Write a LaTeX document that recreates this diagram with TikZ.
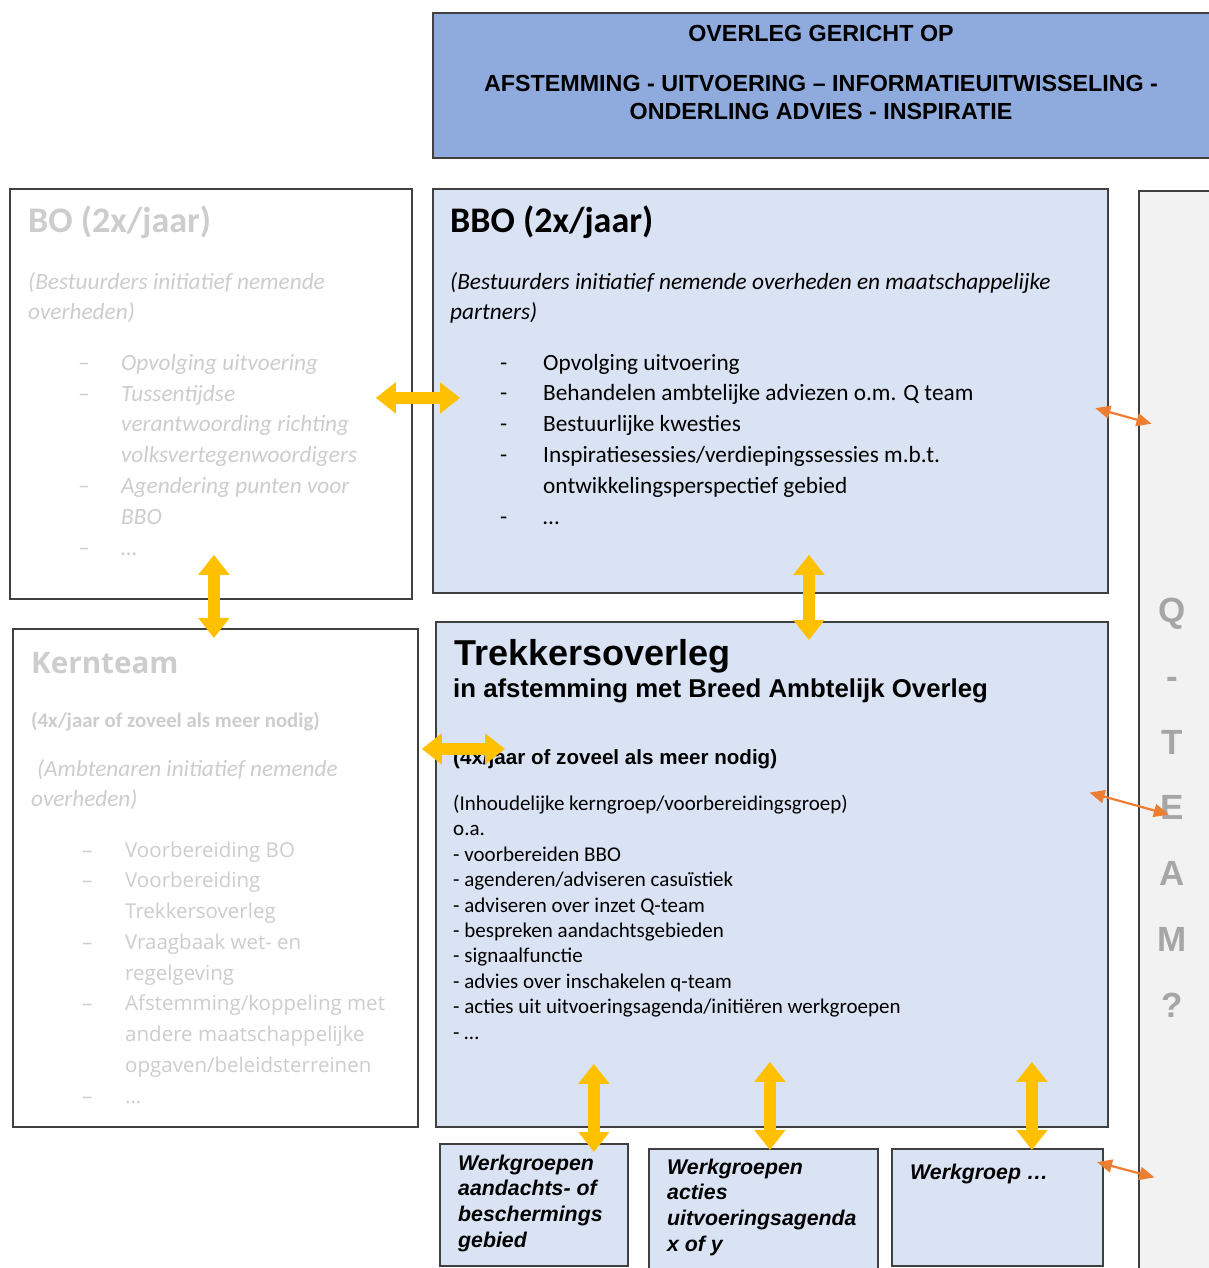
\documentclass[tikz,border=0pt]{standalone}
\usepackage{fontspec}
\newfontfamily\calfont{Carlito}
\newfontfamily\arfont{Liberation Sans}
\newfontfamily\opfont{Open Sans}
\usetikzlibrary{arrows.meta}
\definecolor{boxline}{HTML}{404040}
\definecolor{topblue}{HTML}{8FAADC}
\definecolor{paleblue}{HTML}{DAE3F3}
\definecolor{qgrey}{HTML}{F2F2F2}
\definecolor{fade}{HTML}{CDCDCD}
\definecolor{qletter}{HTML}{A6A6A6}
\definecolor{ylw}{HTML}{FFC000}
\definecolor{orng}{HTML}{ED7D31}
\newcommand{\dashitem}[1][-]{\makebox[43pt][l]{#1}}
\newcommand{\dashcont}{\hspace*{43pt}}

\begin{document}
\begin{tikzpicture}[x=1pt,y=-1pt,
	box/.style={draw=boxline,line width=1.8pt,anchor=north west,inner sep=0pt},
	txt/.style={anchor=base west,inner sep=0pt,align=left},
	yarrow/.style={ylw,line width=12pt,{Triangle[width=30pt,length=20pt]}-{Triangle[width=30pt,length=20pt]}},
	oarrow/.style={orng,line width=2.2pt,{Triangle[width=13pt,length=15pt]}-{Triangle[width=13pt,length=15pt]}}]
	\useasboundingbox (0,0) rectangle (1209,1268);
	
	% boxes
	\node[box,fill=topblue,minimum width=790,minimum height=145] (top) at (432,12) {};
	\node[box,fill=white,minimum width=402,minimum height=410] (bo) at (9,188) {};
	\node[box,fill=paleblue,minimum width=675,minimum height=404] (bbo) at (432,188) {};
	\node[box,fill=qgrey,minimum width=100,minimum height=1090] (qcol) at (1138,190) {};
	\node[box,fill=white,minimum width=405,minimum height=498] (kern) at (12,628) {};
	\node[box,fill=paleblue,minimum width=672,minimum height=505] (trek) at (435,621) {};
	\node[box,fill=paleblue,minimum width=188,minimum height=122] (wgA) at (439,1143) {};
	\node[box,fill=paleblue,minimum width=229,minimum height=130] (wgB) at (648,1148) {};
	\node[box,fill=paleblue,minimum width=211,minimum height=117] (wgC) at (891,1148) {};
	
	% top (base = last line)
	\node[anchor=base,inner sep=0pt,align=center,font=\arfont\bfseries\fontsize{23.3}{28}\selectfont] (top-text) at (821,120) {OVERLEG GERICHT OP\\[22pt]AFSTEMMING - UITVOERING – INFORMATIEUITWISSELING -\\ONDERLING ADVIES - INSPIRATIE};
	
	% BO
	\node[txt,font=\calfont\bfseries\fontsize{36}{40}\selectfont,text=fade] (bo-head) at (28,233) {BO (2x/jaar)};
	\node[txt,font=\calfont\itshape\fontsize{23.3}{30}\selectfont,text=fade] (bo-who) at (28,319) {(Bestuurders initiatief nemende\\overheden)};
	\node[txt,font=\calfont\itshape\fontsize{23.3}{30.8}\selectfont,text=fade] (bo-list) at (78,555) {\dashitem[–]Opvolging uitvoering\\ \dashitem[–]Tussentijdse\\ \dashcont verantwoording richting\\ \dashcont volksvertegenwoordigers\\ \dashitem[–]Agendering punten voor\\ \dashcont BBO\\ \dashitem[–]…};
	
	% BBO
	\node[txt,font=\calfont\bfseries\fontsize{36}{40}\selectfont] (bbo-head) at (450,233) {BBO (2x/jaar)};
	\node[txt,font=\calfont\itshape\fontsize{23.3}{30}\selectfont] (bbo-who) at (450,319) {(Bestuurders initiatief nemende overheden en maatschappelijke\\partners)};
	\node[txt,font=\calfont\fontsize{23.3}{30.8}\selectfont] (bbo-list) at (500,524) {\dashitem Opvolging uitvoering\\ \dashitem Behandelen ambtelijke adviezen o.m. Q team\\ \dashitem Bestuurlijke kwesties\\ \dashitem Inspiratiesessies/verdiepingssessies m.b.t.\\ \dashcont ontwikkelingsperspectief gebied\\ \dashitem …};
	
	% Kernteam
	\node[txt,font=\opfont\bfseries\fontsize{29.6}{34}\selectfont,text=fade] (kern-head) at (31,673) {Kernteam};
	\node[txt,font=\calfont\bfseries\fontsize{20.8}{24}\selectfont,text=fade] (kern-freq) at (31,727) {(4x/jaar of zoveel als meer nodig)};
	\node[txt,font=\calfont\itshape\fontsize{23.2}{30}\selectfont,text=fade] (kern-who) at (31,806) {\hspace*{6pt}(Ambtenaren initiatief nemende\\overheden)};
	\node[txt,font=\opfont\fontsize{20.5}{30.75}\selectfont,text=fade] (kern-list) at (82,1103) {\dashitem[–]Voorbereiding BO\\ \dashitem[–]Voorbereiding\\ \dashcont Trekkersoverleg\\ \dashitem[–]Vraagbaak wet- en\\ \dashcont regelgeving\\ \dashitem[–]Afstemming/koppeling met\\ \dashcont andere maatschappelijke\\ \dashcont opgaven/beleidsterreinen\\ \dashitem[–]…};
	
	% Trekkersoverleg
	\node[txt,font=\arfont\bfseries\fontsize{36}{40}\selectfont] (trek-head) at (454,665) {Trekkersoverleg};
	\node[txt,font=\arfont\bfseries\fontsize{25.8}{30}\selectfont] (trek-sub) at (453,697) {in afstemming met Breed Ambtelijk Overleg};
	\node[txt,font=\arfont\bfseries\fontsize{20.6}{24}\selectfont] (trek-freq) at (453,764) {(4x/jaar of zoveel als meer nodig)};
	\node[txt,font=\calfont\fontsize{21}{25.4}\selectfont] (trek-list) at (453,1039) {(Inhoudelijke kerngroep/voorbereidingsgroep)\\o.a.\\- voorbereiden BBO\\- agenderen/adviseren casuïstiek\\- adviseren over inzet Q-team\\- bespreken aandachtsgebieden\\- signaalfunctie\\- advies over inschakelen q-team\\- acties uit uitvoeringsagenda/initiëren werkgroepen\\- …};
	
	% werkgroepen
	\node[txt,font=\arfont\bfseries\itshape\fontsize{21.3}{25.6}\selectfont] (wgA-text) at (458,1247) {Werkgroepen\\aandachts- of\\beschermings\\gebied};
	\node[txt,font=\arfont\bfseries\itshape\fontsize{21.3}{25.6}\selectfont] (wgB-text) at (667,1251) {Werkgroepen\\acties\\uitvoeringsagenda\\x of y};
	\node[txt,font=\arfont\bfseries\itshape\fontsize{21.3}{25.6}\selectfont] (wgC-text) at (910,1179) {Werkgroep …};
	
	% Q-team
	\node[anchor=base,inner sep=0pt,align=center,font=\arfont\bfseries\fontsize{35}{65.7}\selectfont,text=qletter] (q-text) at (1172,1017) {Q\\-\\T\\E\\A\\M\\?};
	
	% yellow arrows
	\draw[yarrow,shorten <=-37pt,shorten >=-28pt] ([yshift=-4]bo.east) -- ([yshift=-7]bbo.west);
	\draw[yarrow,shorten <=-45pt,shorten >=-10pt] ([xshift=3]bo.south) -- ([xshift=-1.5]kern.north);
	\draw[yarrow,shorten <=-39pt,shorten >=-19pt] ([xshift=38.5]bbo.south) -- ([xshift=37]trek.north);
	\draw[yarrow,shorten <=3pt,shorten >=-70pt] ([yshift=129]kern.east) -- ([yshift=125.5]trek.west);
	\draw[yarrow,shorten <=-64pt,shorten >=-9pt] ([xshift=-178]trek.south) -- ([xshift=60]wgA.north);
	\draw[yarrow,shorten <=-66pt,shorten >=-2pt] ([xshift=-2]trek.south) -- ([xshift=6.5]wgB.north);
	\draw[yarrow,shorten <=-66pt,shorten >=-2pt] ([xshift=260]trek.south) -- ([xshift=34.5]wgC.north);
	
	% orange arrows
	\draw[oarrow,shorten <=-14pt,shorten >=-14pt] ([yshift=-21]bbo.east) -- ([yshift=-230]qcol.north west);
	\draw[oarrow,shorten <=-20pt,shorten >=-32pt] ([yshift=76.5]trek.east) -- ([yshift=-616]qcol.north west);
	\draw[oarrow,shorten <=-7pt,shorten >=-17pt] ([yshift=43.5]wgC.east) -- ([yshift=-983]qcol.north west);
\end{tikzpicture}
\end{document}
